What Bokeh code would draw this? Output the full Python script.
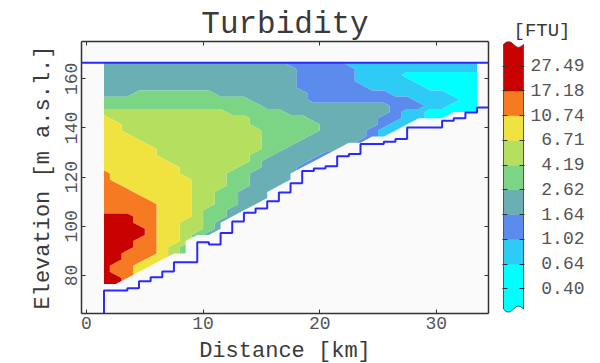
import numpy as np
from bokeh.plotting import figure
from bokeh.layouts import row
from bokeh.models import Range1d, LinearAxis, FixedTicker, Span
from bokeh.embed import file_html
from bokeh.resources import INLINE

FONT = "Liberation Mono"

# ---------------- data ----------------
LEVELS = [0.40, 0.64, 1.02, 1.64, 2.62, 4.19, 6.71, 10.74, 17.18, 27.49]
LEVEL_LABELS = ["0.40", "0.64", "1.02", "1.64", "2.62", "4.19", "6.71",
                "10.74", "17.18", "27.49"]
BAND_COLORS = ["#00ffff", "#2ecbf6", "#5b8ced", "#6aafb4", "#7cd584",
               "#b5df5f", "#f1e33f", "#f57a22", "#c80000"]
# representative turbidity [FTU] of each colour class (0 = cyan ... 8 = red)
CLASS_FTU = [0.51, 0.81, 1.29, 2.07, 3.31, 5.30, 8.49, 13.6, 21.7]

GRID_X_KM = list(np.arange(1.5, 34.0, 1.0))      # 33 profile nodes
GRID_Y_M = list(np.arange(166.5, 75.0, -2.5))    # 37 depth nodes, top -> bottom
# colour class at each node, one string per elevation row (top first);
# missing characters at the end of a row are nodes below the lake bed
TURBIDITY_CLASS_ROWS = [
    "333333333333333322222111111111111",
    "333333333333333332222211111111111",
    "333333333333333332222211110000000",
    "333333333333333332222211111000000",
    "333333333333333332222221111100000",
    "333444444433333333222222211111000",
    "444444444444433333222222222111100",
    "444444444444443333333333322211000",
    "555555555554444433333333321100000",
    "655555555555544444333333221100",
    "665555555555544444433333211",
    "66555555555555444443333211",
    "6665555555555544443333321",
    "66665555555555444333332",
    "666665555555554433333",
    "66666555555554433332",
    "6666665555555433332",
    "666666655555443332",
    "76666665555443333",
    "76666666555443333",
    "7766666655544333",
    "777666665544333",
    "777766665544333",
    "77777666554433",
    "7777766654433",
    "888776665443",
    "88877665543",
    "88887665543",
    "8888766543",
    "88877665",
    "88877654",
    "88777654",
    "887766",
    "87766",
    "8776",
    "887",
    "88",
]
BOTTOM_COL_KM = list(range(2, 35))
BOTTOM_ELEV_M = [73.9, 73.9, 74.8, 77.7, 79.3, 81.6, 85.4, 85.4, 93.5, 92.6,
                 97.3, 102.0, 105.5, 107.3, 110.2, 113.8, 117.5, 122.5, 123.5,
                 124.4, 128.5, 129.4, 133.5, 133.5, 134.4, 135.5, 140.2, 140.2,
                 140.2, 142.9, 144.0, 146.3, 148.3]
SURFACE_ELEV_M = 166.5

X_TICKS = [0, 10, 20, 30]
Y_TICKS = [80, 100, 120, 140, 160]
X_RANGE = (-0.43, 34.48)
Y_RANGE = (64.55, 175.17)

BLUE = "#2a2aff"
AXIS_COLOR = "#333333"
TICK_TEXT = "#555555"
TEXT = "#3a3a3a"

# ---------------- main figure ----------------
FW, FH = 407, 272
p = figure(x_range=Range1d(*X_RANGE), y_range=Range1d(*Y_RANGE),
           frame_width=FW, frame_height=FH,
           min_border_left=81, min_border_right=10,
           min_border_top=41, min_border_bottom=50,
           output_backend="svg", toolbar_location=None,
           background_fill_color="#fafafa", border_fill_color="white",
           outline_line_color=None, title="Turbidity")
p.grid.visible = False
p.title.text_font = FONT
p.title.text_font_size = "31px"
p.title.text_font_style = "normal"
p.title.text_color = TEXT
p.title.align = "center"
p.title.standoff = 0

nx = len(GRID_X_KM)
z = np.full((len(GRID_Y_M), nx), np.nan)
for j, r in enumerate(TURBIDITY_CLASS_ROWS):
    for i, ch in enumerate(r.ljust(nx, ".")):
        if ch != ".":
            z[j, i] = np.log(CLASS_FTU[int(ch)])
gy = np.asarray(GRID_Y_M)[::-1]
z = z[::-1]
fill_levels = list(np.log([0.01] + LEVELS[1:9] + [1000.0]))
cr = p.contour(np.asarray(GRID_X_KM), gy, z, levels=fill_levels,
               fill_color=BAND_COLORS)
g = cr.fill_renderer.glyph
g.line_color = g.fill_color
g.line_width = 0.6

# lake bed (step line along the profile columns)
bx = [BOTTOM_COL_KM[0] - 0.5]
by = [Y_RANGE[0]]
for c, e in zip(BOTTOM_COL_KM, BOTTOM_ELEV_M):
    bx += [c - 0.5, c + 0.5]
    by += [e, e]
p.line(bx, by, line_color=BLUE, line_width=2)
p.add_layout(Span(location=SURFACE_ELEV_M, dimension="width",
                  line_color=BLUE, line_width=2))


def style_axis(ax, ticks, labels=True, size="18px", standoff=4):
    ax.ticker = FixedTicker(ticks=ticks)
    ax.axis_line_color = AXIS_COLOR
    ax.axis_line_width = 1.5
    ax.major_tick_line_color = AXIS_COLOR
    ax.major_tick_in = 4
    ax.major_tick_out = 0
    ax.minor_tick_line_color = None
    ax.major_label_text_font = FONT
    ax.major_label_text_color = TICK_TEXT
    ax.major_label_text_font_size = size
    ax.major_label_standoff = standoff
    ax.axis_label_text_font = FONT
    ax.axis_label_text_font_size = "22px"
    ax.axis_label_text_font_style = "normal"
    ax.axis_label_text_color = TEXT
    if not labels:
        ax.major_label_text_color = None
        ax.major_label_text_font_size = "1px"
        ax.major_label_standoff = 0


xa = p.xaxis[0]
style_axis(xa, X_TICKS, standoff=3)
xa.axis_label = "Distance [km]"
xa.axis_label_standoff = 7
ya = p.yaxis[0]
style_axis(ya, Y_TICKS, standoff=4)
ya.major_label_orientation = "vertical"
ya.axis_label = "Elevation [m a.s.l.]"
ya.axis_label_standoff = 7

top_ax = LinearAxis()
style_axis(top_ax, X_TICKS, labels=False)
p.add_layout(top_ax, "above")
right_ax = LinearAxis()
style_axis(right_ax, Y_TICKS, labels=False)
p.add_layout(right_ax, "right")

# ---------------- colour bar ----------------
BAR_BOT, BAR_TOP, WAVE_A = -0.82, 9.88, 0.12
cb = figure(x_range=Range1d(-0.05, 1.05), y_range=Range1d(-1.0, 10.0),
            frame_width=22, frame_height=FH,
            min_border_left=4, min_border_right=72,
            min_border_top=41, min_border_bottom=50,
            output_backend="svg", toolbar_location=None,
            background_fill_color="white", border_fill_color="white",
            outline_line_color=None, title="[FTU]")
cb.grid.visible = False
cb.xaxis.visible = False
cb.title.text_font = FONT
cb.title.text_font_size = "19px"
cb.title.text_font_style = "normal"
cb.title.text_color = TEXT
cb.title.align = "left"
cb.title.offset = 11
cb.title.standoff = 0

wx = np.linspace(0.0, 1.0, 25)
top_edge = BAR_TOP + WAVE_A * np.sin(2 * np.pi * wx)
bot_edge = BAR_BOT - WAVE_A * np.sin(2 * np.pi * wx)
nb = len(BAND_COLORS)
pxs, pys = [], []
for b in range(nb):
    if b == 0:
        lx, ly = list(wx), list(bot_edge)
    else:
        lx, ly = [0.0, 1.0], [float(b), float(b)]
    if b == nb - 1:
        ux, uy = list(wx[::-1]), list(top_edge[::-1])
    else:
        ux, uy = [1.0, 0.0], [float(b + 1), float(b + 1)]
    pxs.append(lx + ux)
    pys.append(ly + uy)
cb.patches(pxs, pys, fill_color=BAND_COLORS, line_color=BAND_COLORS,
           line_width=0.5)
ox = [0.0] + list(wx) + [1.0] + list(wx[::-1])
oy = [bot_edge[0]] + list(top_edge) + [bot_edge[-1]] + list(bot_edge[::-1])
cb.line(ox, oy, line_color="#555555", line_width=1)

tick_idx = list(range(len(LEVELS)))
cl = cb.yaxis[0]
style_axis(cl, tick_idx, labels=False)
cl.axis_line_color = None
cl.major_tick_in = 5
cr_ax = LinearAxis()
style_axis(cr_ax, tick_idx, size="18px", standoff=6)
cr_ax.axis_line_color = None
cr_ax.major_tick_in = 5
width = max(len(s) for s in LEVEL_LABELS)
cr_ax.major_label_overrides = {i: s.rjust(width, "\u00a0")
                               for i, s in zip(tick_idx, LEVEL_LABELS)}
cb.add_layout(cr_ax, "right")

layout = row(p, cb)
open("out.html", "w").write(file_html(layout, INLINE))
